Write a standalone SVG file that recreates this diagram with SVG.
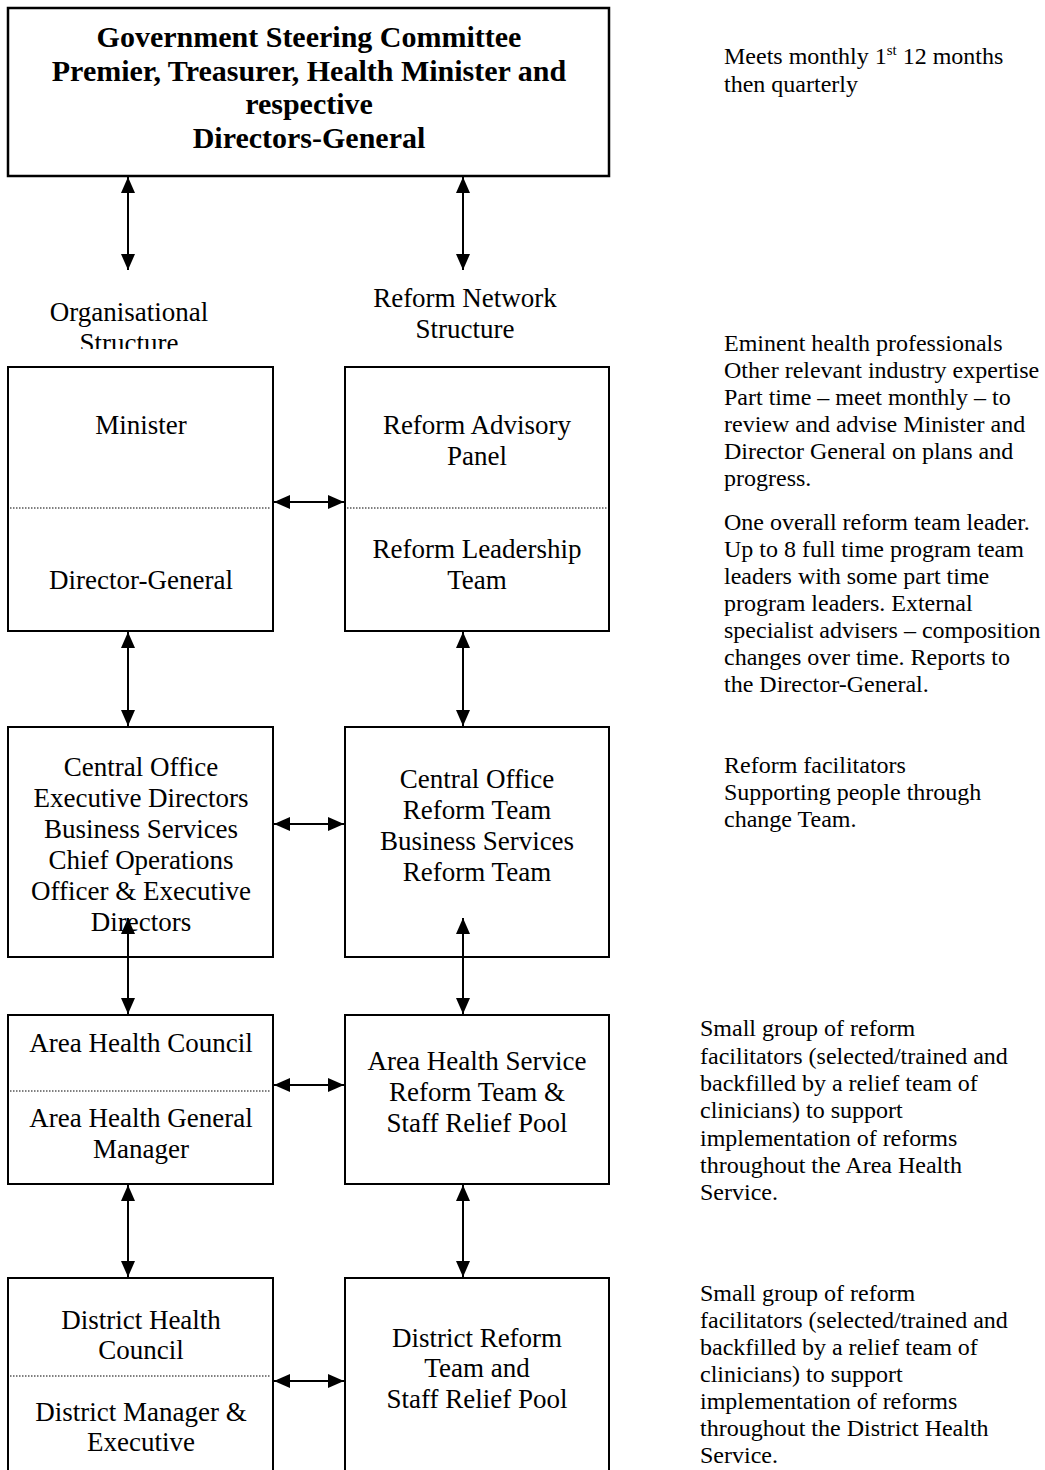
<svg xmlns="http://www.w3.org/2000/svg" width="1045" height="1470" viewBox="0 0 1045 1470">
<style>
.box{fill:#fff;stroke:#000;stroke-width:2}
.top{fill:#fff;stroke:#000;stroke-width:2.5}
.t{font-family:"Liberation Serif","Times New Roman",serif;font-size:27px;fill:#000;text-anchor:middle}
.b{font-family:"Liberation Serif","Times New Roman",serif;font-size:30px;font-weight:bold;fill:#000;text-anchor:middle}
.n{font-family:"Liberation Serif","Times New Roman",serif;font-size:24px;fill:#000}
.dot{stroke:#000;stroke-width:1;stroke-dasharray:1.5 1.5;fill:none}
.c{stroke:#000;stroke-width:2;fill:none;marker-start:url(#ah);marker-end:url(#ah)}
</style>
<defs>
<marker id="ah" viewBox="0 0 16 14" refX="16" refY="7" markerWidth="16" markerHeight="14" markerUnits="userSpaceOnUse" orient="auto-start-reverse">
<path d="M0,0 L16,7 L0,14 Z" fill="#000"/>
</marker>
<clipPath id="clipOrg"><rect x="0" y="280" width="300" height="69"/></clipPath>
</defs>
<rect width="1045" height="1470" fill="#fff"/>

<g id="steering">
<rect class="top" x="8" y="8" width="601" height="168"/>
<text class="b" x="309" y="47">Government Steering Committee</text>
<text class="b" x="309" y="81">Premier, Treasurer, Health Minister and</text>
<text class="b" x="309" y="114">respective</text>
<text class="b" x="309" y="148">Directors-General</text>
</g>

<g id="label-org" clip-path="url(#clipOrg)">
<text class="t" x="129" y="321">Organisational</text>
<text class="t" x="129" y="352">Structure</text>
</g>
<g id="label-reform">
<text class="t" x="465" y="307">Reform Network</text>
<text class="t" x="465" y="338">Structure</text>
</g>

<g id="minister-dg">
<rect class="box" x="8" y="367" width="265" height="264"/>
<line class="dot" x1="10" y1="508" x2="271" y2="508"/>
<text class="t" x="141" y="434">Minister</text>
<text class="t" x="141" y="589">Director-General</text>
</g>
<g id="advisory-leadership">
<rect class="box" x="345" y="367" width="264" height="264"/>
<line class="dot" x1="347" y1="508" x2="607" y2="508"/>
<text class="t" x="477" y="434">Reform Advisory</text>
<text class="t" x="477" y="465">Panel</text>
<text class="t" x="477" y="558">Reform Leadership</text>
<text class="t" x="477" y="589">Team</text>
</g>

<g id="central-office">
<rect class="box" x="8" y="727" width="265" height="230"/>
<text class="t" x="141" y="776">Central Office</text>
<text class="t" x="141" y="807">Executive Directors</text>
<text class="t" x="141" y="838">Business Services</text>
<text class="t" x="141" y="869">Chief Operations</text>
<text class="t" x="141" y="900">Officer &amp; Executive</text>
<text class="t" x="141" y="931">Directors</text>
</g>
<g id="central-reform">
<rect class="box" x="345" y="727" width="264" height="230"/>
<text class="t" x="477" y="788">Central Office</text>
<text class="t" x="477" y="819">Reform Team</text>
<text class="t" x="477" y="850">Business Services</text>
<text class="t" x="477" y="881">Reform Team</text>
</g>

<g id="area-health">
<rect class="box" x="8" y="1015" width="265" height="169"/>
<line class="dot" x1="10" y1="1091" x2="271" y2="1091"/>
<text class="t" x="141" y="1052">Area Health Council</text>
<text class="t" x="141" y="1127">Area Health General</text>
<text class="t" x="141" y="1158">Manager</text>
</g>
<g id="area-reform">
<rect class="box" x="345" y="1015" width="264" height="169"/>
<text class="t" x="477" y="1070">Area Health Service</text>
<text class="t" x="477" y="1101">Reform Team &amp;</text>
<text class="t" x="477" y="1132">Staff Relief Pool</text>
</g>

<g id="district-health">
<rect class="box" x="8" y="1278" width="265" height="220"/>
<line class="dot" x1="10" y1="1376" x2="271" y2="1376"/>
<text class="t" x="141" y="1329">District Health</text>
<text class="t" x="141" y="1359">Council</text>
<text class="t" x="141" y="1421">District Manager &amp;</text>
<text class="t" x="141" y="1451">Executive</text>
</g>
<g id="district-reform">
<rect class="box" x="345" y="1278" width="264" height="220"/>
<text class="t" x="477" y="1347">District Reform</text>
<text class="t" x="477" y="1377">Team and</text>
<text class="t" x="477" y="1408">Staff Relief Pool</text>
</g>

<g id="connectors">
<line class="c" x1="128" y1="177" x2="128" y2="270"/>
<line class="c" x1="463" y1="177" x2="463" y2="270"/>
<line class="c" x1="274" y1="502" x2="344" y2="502"/>
<line class="c" x1="128" y1="632" x2="128" y2="726"/>
<line class="c" x1="463" y1="632" x2="463" y2="726"/>
<line class="c" x1="274" y1="824" x2="344" y2="824"/>
<line class="c" x1="128" y1="918" x2="128" y2="1014"/>
<line class="c" x1="463" y1="918" x2="463" y2="1014"/>
<line class="c" x1="274" y1="1085" x2="344" y2="1085"/>
<line class="c" x1="128" y1="1185" x2="128" y2="1277"/>
<line class="c" x1="463" y1="1185" x2="463" y2="1277"/>
<line class="c" x1="274" y1="1381" x2="344" y2="1381"/>
</g>

<g id="notes">
<text class="n" x="724" y="64">Meets monthly 1<tspan font-size="15" dy="-9">st</tspan><tspan dy="9"> 12 months</tspan></text>
<text class="n" x="724" y="92">then quarterly</text>

<text class="n" x="724" y="351">Eminent health professionals</text>
<text class="n" x="724" y="378">Other relevant industry expertise</text>
<text class="n" x="724" y="405">Part time – meet monthly – to</text>
<text class="n" x="724" y="432">review and advise Minister and</text>
<text class="n" x="724" y="459">Director General on plans and</text>
<text class="n" x="724" y="486">progress.</text>

<text class="n" x="724" y="530">One overall reform team leader.</text>
<text class="n" x="724" y="557">Up to 8 full time program team</text>
<text class="n" x="724" y="584">leaders with some part time</text>
<text class="n" x="724" y="611">program leaders.  External</text>
<text class="n" x="724" y="638">specialist advisers – composition</text>
<text class="n" x="724" y="665">changes over time.  Reports to</text>
<text class="n" x="724" y="692">the Director-General.</text>

<text class="n" x="724" y="773">Reform facilitators</text>
<text class="n" x="724" y="800">Supporting people through</text>
<text class="n" x="724" y="827">change Team.</text>

<text class="n" x="700" y="1036">Small group of reform</text>
<text class="n" x="700" y="1064">facilitators (selected/trained and</text>
<text class="n" x="700" y="1091">backfilled by a relief team of</text>
<text class="n" x="700" y="1118">clinicians) to support</text>
<text class="n" x="700" y="1146">implementation of reforms</text>
<text class="n" x="700" y="1173">throughout the Area Health</text>
<text class="n" x="700" y="1200">Service.</text>

<text class="n" x="700" y="1301">Small group of reform</text>
<text class="n" x="700" y="1328">facilitators (selected/trained and</text>
<text class="n" x="700" y="1355">backfilled by a relief team of</text>
<text class="n" x="700" y="1382">clinicians) to support</text>
<text class="n" x="700" y="1409">implementation of reforms</text>
<text class="n" x="700" y="1436">throughout the District Health</text>
<text class="n" x="700" y="1463">Service.</text>
</g>
</svg>
